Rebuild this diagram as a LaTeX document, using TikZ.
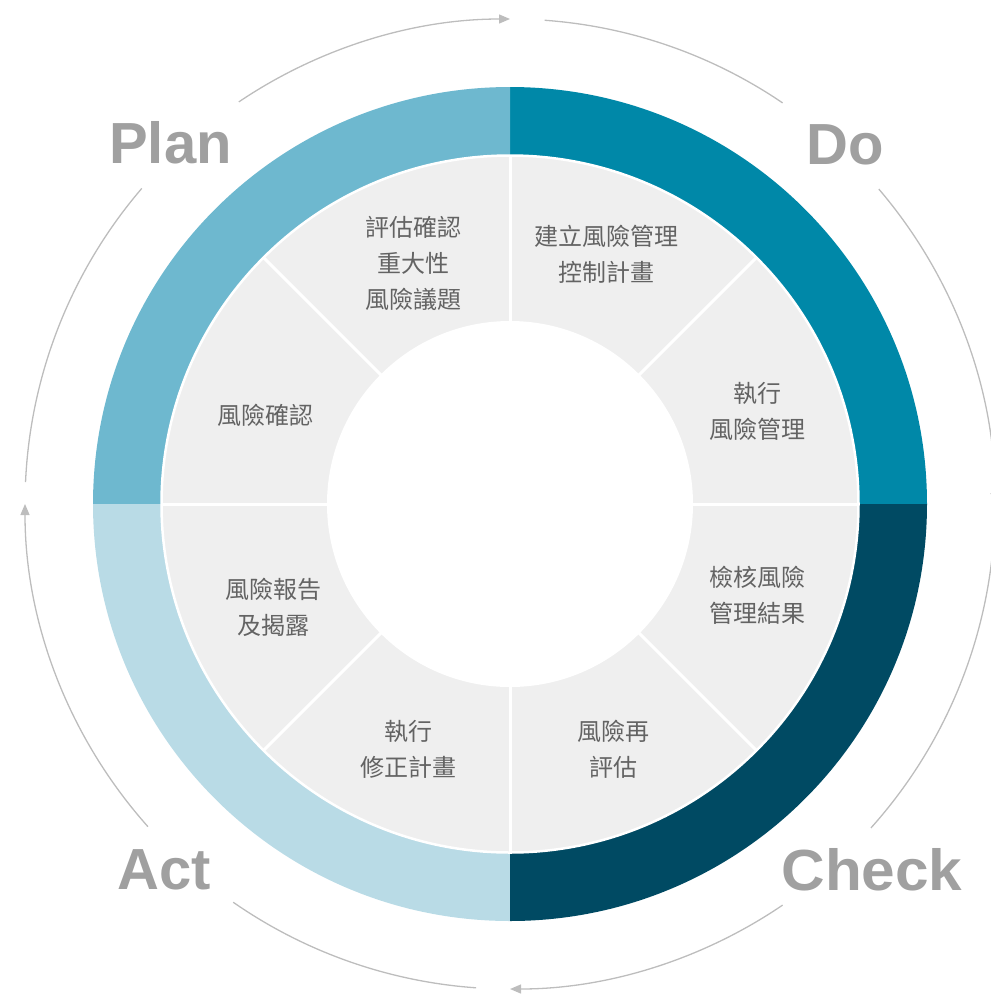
\documentclass[tikz,border=0pt]{standalone}
\usepackage{fontspec}
\setmainfont{Liberation Sans}
\newfontfamily\cjk{Noto Sans CJK TC}
\usetikzlibrary{arrows.meta,calc}
\definecolor{plancol}{HTML}{6EB8CF}
\definecolor{docol}{HTML}{0088A8}
\definecolor{checkcol}{HTML}{004A63}
\definecolor{actcol}{HTML}{B9DBE6}
\definecolor{segcol}{HTML}{EFEFEF}
\definecolor{segtext}{HTML}{636363}
\definecolor{phasecol}{HTML}{A0A0A0}
\definecolor{arccol}{HTML}{BDBDBD}
\begin{document}
\begin{tikzpicture}[x=1pt,y=1pt,
  seg/.style={font=\cjk\fontsize{24}{36}\selectfont, text=segtext, align=center, inner sep=0pt},
  phase/.style={font=\bfseries\fontsize{58}{58}\selectfont, text=phasecol, inner sep=0pt, anchor=base},
  cyc/.style={draw=arccol, line width=1.3pt},
  cyctip/.style={cyc, -{Triangle[length=11pt,width=9pt]}}]
\useasboundingbox (0,0) rectangle (991,-994);
\clip (0,0) rectangle (991,-994);
\coordinate (C) at (510,-504);
% outer colored quadrants
\fill[docol] (C) -- ($(C)+(0:417pt)$) arc[start angle=0,end angle=90,radius=417pt] -- cycle;
\fill[plancol] (C) -- ($(C)+(90:417pt)$) arc[start angle=90,end angle=180,radius=417pt] -- cycle;
\fill[actcol] (C) -- ($(C)+(180:417pt)$) arc[start angle=180,end angle=270,radius=417pt] -- cycle;
\fill[checkcol] (C) -- ($(C)+(270:417pt)$) arc[start angle=270,end angle=360,radius=417pt] -- cycle;
% gray segments
\filldraw[fill=segcol, draw=white, line width=2.5pt] (C) circle[radius=348.5pt];
\foreach \a in {0,45,...,315} \draw[white, line width=3pt] (C) -- ($(C)+(\a:348pt)$);
\fill[white] (C) circle[radius=183pt];
% cycle arcs
\draw[cyctip] ($(C)+(124:485pt)$) arc[start angle=124,end angle=90,radius=485pt];
\draw[cyc] ($(C)+(85.9:485pt)$) arc[start angle=85.9,end angle=55.8,radius=485pt];
\draw[cyctip] ($(C)+(40.5:485pt)$) arc[start angle=40.5,end angle=0,radius=485pt];
\draw[cyc] ($(C)+(-4:485pt)$) arc[start angle=-4,end angle=-41.9,radius=485pt];
\draw[cyctip] ($(C)+(-55.8:485pt)$) arc[start angle=-55.8,end angle=-90,radius=485pt];
\draw[cyc] ($(C)+(-94:485pt)$) arc[start angle=-94,end angle=-124.8,radius=485pt];
\draw[cyctip] ($(C)+(-138.3:485pt)$) arc[start angle=-138.3,end angle=-180,radius=485pt];
\draw[cyc] ($(C)+(177.4:485pt)$) arc[start angle=177.4,end angle=139.4,radius=485pt];
% phase labels
\node[phase] (plan) at (170.5,-163) {Plan};
\node[phase] (do) at (845,-164) {Do};
\node[phase, xscale=1.04] (check) at (872,-890) {Check};
\node[phase] (act) at (164.5,-889) {Act};
% segment texts
\node[seg] (s1) at (413,-263) {評估確認\\重大性\\風險議題};
\node[seg] (s2) at (606,-254) {建立風險管理\\控制計畫};
\node[seg] (s3) at (757,-411) {執行\\風險管理};
\node[seg] (s4) at (757,-595) {檢核風險\\管理結果};
\node[seg] (s5) at (613,-749) {風險再\\評估};
\node[seg] (s6) at (408,-749) {執行\\修正計畫};
\node[seg] (s7) at (273,-607) {風險報告\\及揭露};
\node[seg] (s8) at (265,-415) {風險確認};
\end{tikzpicture}
\end{document}
